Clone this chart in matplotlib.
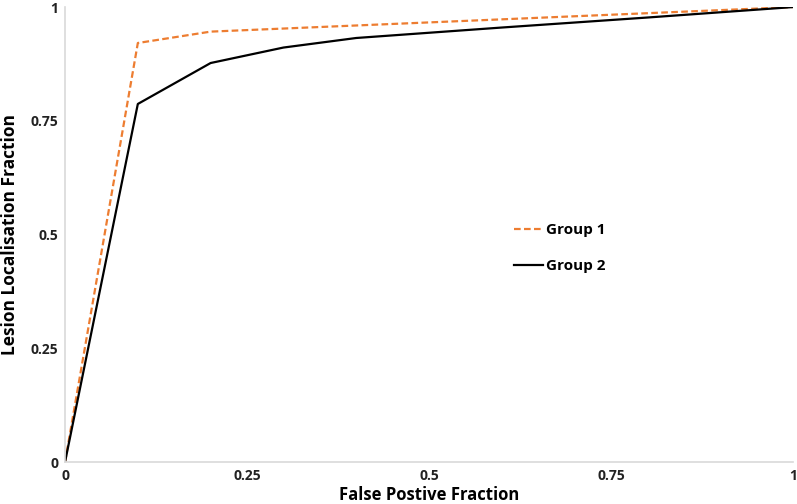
import matplotlib
matplotlib.use("Agg")
import matplotlib.pyplot as plt

x_g1 = [0, 0.1, 0.2, 0.4, 0.6, 0.8, 1.0]
y_g1 = [0, 0.921, 0.946, 0.9595, 0.973, 0.9865, 1.0]
x_g2 = [0, 0.1, 0.2, 0.3, 0.4, 0.6, 0.8, 1.0]
y_g2 = [0, 0.787, 0.877, 0.911, 0.932, 0.955, 0.977, 1.0]
ticks = [0, 0.25, 0.5, 0.75, 1]
tick_labels = ["0", "0.25", "0.5", "0.75", "1"]

plt.rcParams['font.family'] = ['Open Sans', 'DejaVu Sans']
fig = plt.figure(figsize=(7.97, 5.04), dpi=100)
ax = fig.add_axes([0.0816, 0.0833, 0.9134, 0.9027])

ax.plot(x_g1, y_g1, color="#ED7D31", linestyle=(0, (3.0, 1.5)), linewidth=1.6, label="Group 1")
ax.plot(x_g2, y_g2, color="black", linewidth=1.6, label="Group 2")

ax.set_xlim(0, 1)
ax.set_ylim(0, 1)
ax.set_xticks(ticks)
ax.set_xticklabels(tick_labels)
ax.set_yticks(ticks)
ax.set_yticklabels(tick_labels)
ax.tick_params(length=0, labelsize=10, pad=5)
for lbl in ax.get_xticklabels() + ax.get_yticklabels():
    lbl.set_fontweight("bold")
    lbl.set_color("#222222")
for s in ["top", "right"]:
    ax.spines[s].set_visible(False)
for s in ["left", "bottom"]:
    ax.spines[s].set_color("#D9D9D9")
    ax.spines[s].set_linewidth(1.2)

ax.set_xlabel("False Postive Fraction", fontsize=12, fontweight="bold", labelpad=2)
ax.set_ylabel("Lesion Localisation Fraction", fontsize=12.5, fontweight="bold", labelpad=8)

leg = ax.legend(loc="center left", bbox_to_anchor=(0.598, 0.47), frameon=False,
                handlelength=1.9, handletextpad=0.2, labelspacing=1.45,
                prop={"size": 11, "weight": "bold"})

fig.savefig("out.png", dpi=100)
